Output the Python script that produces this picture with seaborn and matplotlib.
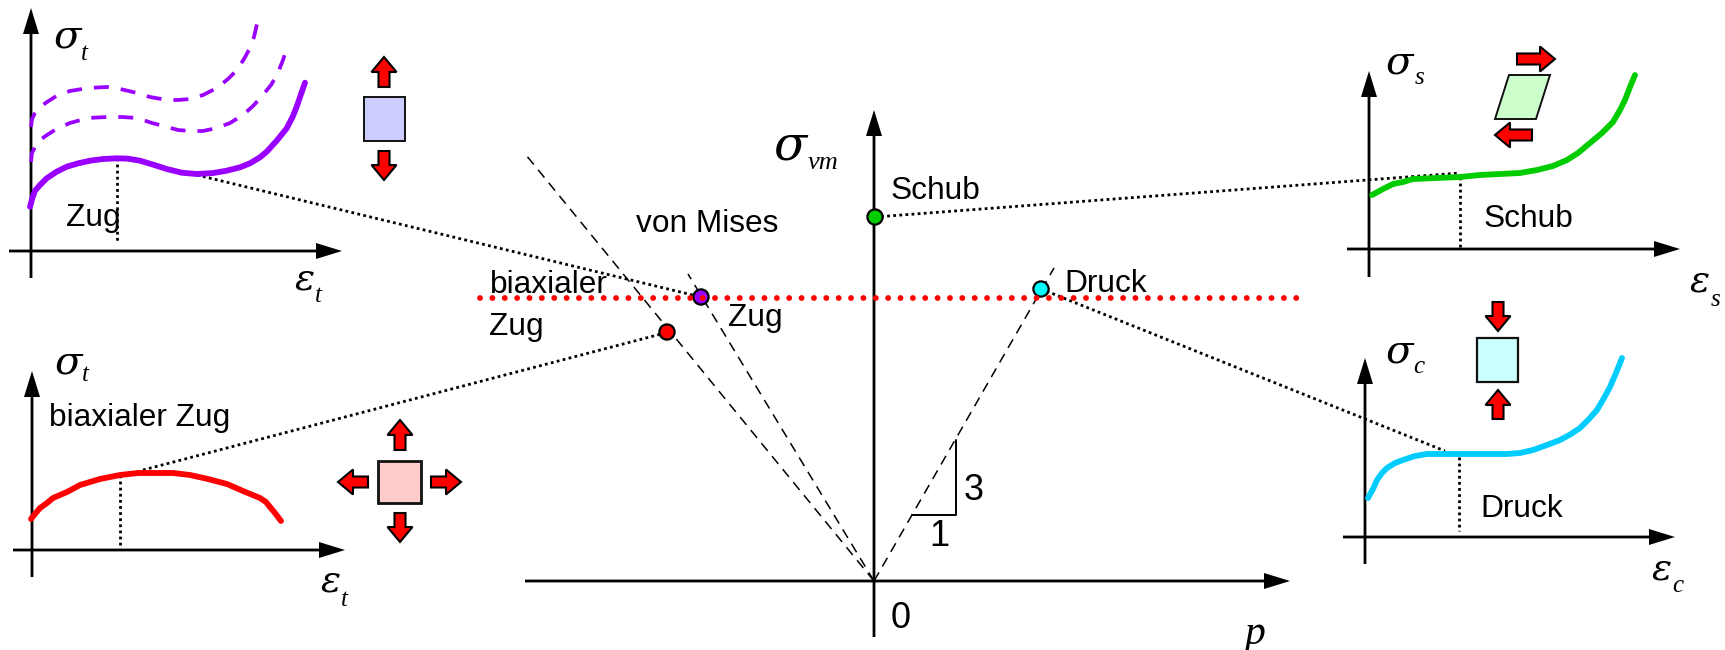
import matplotlib
matplotlib.use("Agg")
import matplotlib.pyplot as plt
import matplotlib.patches as mpatches
import seaborn as sns

sns.set_style("white")
plt.rcParams["font.family"] = ["Liberation Sans", "DejaVu Sans"]

# ------------------------------------------------------------
# Curves (pixel positions of the drawing)
# ------------------------------------------------------------
zug_x = [30, 32.3, 35, 40, 46.7, 56.7, 66.7, 78.3, 90, 103.3, 116.7, 128.3, 140, 153.3, 166.7,
         181.7, 196.7, 213.3, 226.7, 240, 250, 260, 266.7, 276.7, 286.7, 292.7, 296.7, 300.7, 305]
zug_y = [206.7, 198.3, 190.7, 185, 178.3, 171.7, 166.7, 163.3, 160.7, 159, 158.3, 158.7, 160.7, 164.7, 169,
         172.7, 174, 173, 170.7, 167.3, 163.3, 157.3, 151.7, 140.7, 128.3, 116.7, 106.7, 95, 82.7]
zug_upper_x = [31, 32, 35, 40, 47, 58, 70, 88, 107, 120, 133, 150, 167, 178, 190, 203, 217, 228, 237, 244, 250, 254, 257]
zug_upper_y = [127, 119, 113, 107, 102, 95, 91, 88, 87, 89, 92, 97, 100, 100, 99, 95, 88, 79, 70, 59, 48, 37, 24]
zug_mid_x = [31, 32, 35, 40, 47, 58, 70, 88, 107, 122, 137, 152, 167, 178, 190, 203, 217, 230, 243, 253, 263, 271, 277, 283, 288]
zug_mid_y = [162, 153, 147, 140, 135, 128, 123, 118, 117, 117, 118, 123, 127, 130, 131, 131, 128, 123, 115, 106, 95, 85, 75, 60, 45]
biax_x = [31, 35, 40, 47, 53, 67, 80, 100, 120, 138, 157, 173, 190, 208, 227, 243, 260, 266, 270, 275, 281]
biax_y = [519, 514, 508, 503, 498, 492, 485, 479, 475, 473, 473, 473, 475, 479, 484, 491, 498, 502, 507, 513, 521]
schub_x = [1372, 1383, 1393, 1403, 1413, 1437, 1460, 1480, 1500, 1520, 1537, 1553, 1567, 1578, 1590, 1602, 1613, 1620, 1625, 1630, 1635]
schub_y = [195, 189, 184, 182, 179, 178, 177, 175, 174, 173, 170, 166, 160, 153, 143, 133, 122, 110, 100, 87, 75]
druck_x = [1368, 1373, 1377, 1382, 1387, 1395, 1403, 1415, 1427, 1443, 1460, 1483, 1507, 1520, 1533, 1547, 1560, 1571, 1580, 1589, 1597, 1604, 1610, 1616, 1622]
druck_y = [498, 489, 480, 473, 468, 463, 460, 456, 454, 454, 454, 454, 454, 453, 450, 445, 440, 434, 428, 419, 410, 398, 387, 373, 358]

# state points in the p / sigma_vm plane
point_x = [667, 701, 875, 1041]
point_y = [332, 297, 217, 289]
point_colors = ["#FF0000", "#9900FF", "#00CC00", "#00FFFF"]

# axis crosses: x, y of origin, x start, x tip, y start, y tip
axis_sets = [
    (31, 251, 9, 342, 278, 8),
    (32, 550, 13, 345, 577, 371),
    (1369, 249, 1347, 1680, 277, 71),
    (1365, 537, 1343, 1675, 564, 358),
    (874, 581, 525, 1290, 637, 110),
]

# dotted leaders
leaders = [
    ((197, 701), (175, 297)),
    ((143, 665), (470, 333)),
    ((875, 1460), (217, 173)),
    ((1041, 1445), (289, 451)),
    ((117, 117), (158, 243)),
    ((120, 120), (475, 545)),
    ((1460, 1460), (177, 247)),
    ((1459, 1459), (457, 531)),
]

# dashed lines out of the origin
rays = [((874, 1054), (581, 268)), ((874, 526), (581, 155)), ((874, 688), (581, 274))]
slope_x = [912, 956, 956]
slope_y = [515, 515, 440]

# load arrows: tail x, tail y, tip x, tip y
load_arrows = [
    (384, 87, 384, 57), (384, 151, 384, 180),
    (400, 450, 400, 420), (400, 513, 400, 542), (368, 482, 338, 482), (431, 482, 461, 482),
    (1517, 59, 1555, 59), (1532, 135, 1495, 135),
    (1498, 302, 1498, 331), (1498, 419, 1498, 390),
]

# element shapes
elements = [
    ([(364, 97), (405, 97), (405, 141), (364, 141)], "#CCCCFF", 1.4),
    ([(378, 461), (421, 461), (421, 503), (378, 503)], "#FFCCCC", 2.0),
    ([(1509, 75), (1550, 75), (1536, 119), (1495, 119)], "#CCFFCC", 1.4),
    ([(1477, 338), (1518, 338), (1518, 382), (1477, 382)], "#CCFFFF", 1.6),
]

# labels
sans_labels = [
    ("Zug", 93, 218), ("biaxialer Zug", 140, 418), ("Schub", 1528, 219), ("Druck", 1522, 509),
    ("von Mises", 707, 224), ("biaxialer", 549, 285), ("Zug", 516, 327), ("Zug", 755, 318),
    ("Schub", 935, 191), ("Druck", 1106, 284),
]
number_labels = [("3", 974, 490), ("1", 939, 537), ("0", 901, 618)]
# greek in a wide serif, subscripts in a narrow one: text, x, y, size
greek = [
    ("σ", 68, 37, 29), ("ε", 305, 279, 27),
    ("σ", 69, 363, 29), ("ε", 331, 582, 27),
    ("σ", 1400, 63, 29), ("ε", 1700, 282, 27),
    ("σ", 1400, 352, 29), ("ε", 1662, 569, 27),
    ("σ", 790, 146, 35),
]
subscripts = [
    ("t", 84, 54, 18), ("t", 318, 296, 18), ("t", 85, 375, 18), ("t", 344, 600, 18),
    ("s", 1420, 78, 18), ("s", 1716, 300, 18), ("c", 1419, 367, 18), ("c", 1678, 586, 18),
    ("vm", 823, 163, 19), ("p", 1255, 634, 30),
]

# ------------------------------------------------------------
# Canvas in pixel units
# ------------------------------------------------------------
fig = plt.figure(figsize=(17.25, 6.5), dpi=100)
ax = fig.add_axes([0, 0, 1, 1])
ax.set_xlim(0, 1725)
ax.set_ylim(650, 0)
ax.axis("off")

# leaders and rays first, everything else lies on them
for xs, ys in leaders:
    sns.lineplot(x=list(xs), y=list(ys), ax=ax, sort=False, estimator=None, errorbar=None,
                 color="black", linewidth=2.0, linestyle=(0, (1, 1.2)), zorder=2)
for xs, ys in rays:
    sns.lineplot(x=list(xs), y=list(ys), ax=ax, sort=False, estimator=None, errorbar=None,
                 color="black", linewidth=1.1, linestyle=(0, (6.5, 4.5)), zorder=2)
sns.lineplot(x=slope_x, y=slope_y, ax=ax, sort=False, estimator=None, errorbar=None,
             color="black", linewidth=1.4, zorder=2)

# axes with filled heads
for ox, oy, x0, x1, y0, y1 in axis_sets:
    ax.add_patch(mpatches.FancyArrow(x0, oy, x1 - x0, 0, width=2.8, head_width=16, head_length=26,
                                     length_includes_head=True, color="black", lw=0, zorder=3))
    ax.add_patch(mpatches.FancyArrow(ox, y0, 0, y1 - y0, width=2.8, head_width=16, head_length=26,
                                     length_includes_head=True, color="black", lw=0, zorder=3))

# stress-strain curves
for xs, ys, col in [(zug_x, zug_y, "#9900FF"), (biax_x, biax_y, "#FF0000"),
                    (schub_x, schub_y, "#00CC00"), (druck_x, druck_y, "#00CCFF")]:
    sns.lineplot(x=xs, y=ys, ax=ax, sort=False, estimator=None, errorbar=None,
                 color=col, linewidth=4.2, zorder=4)
for xs, ys in [(zug_upper_x, zug_upper_y), (zug_mid_x, zug_mid_y)]:
    sns.lineplot(x=xs, y=ys, ax=ax, sort=False, estimator=None, errorbar=None,
                 color="#9900FF", linewidth=2.7, linestyle=(0, (4, 3.2)), zorder=4)

# state points, then the red dotted line on top of them
sns.scatterplot(x=point_x, y=point_y, hue=list(range(len(point_x))), palette=point_colors,
                ax=ax, s=120, edgecolor="black", linewidth=1.6, legend=False, zorder=5)
ax.plot([480, 1297], [298, 298], color="#FF0000", linewidth=4.2, linestyle=(0, (0.01, 2.11)),
        dash_capstyle="round", zorder=6)

# small stress elements
for corners, fill, lw in elements:
    ax.add_patch(mpatches.Polygon(corners, closed=True, facecolor=fill, edgecolor="#111111",
                                  linewidth=lw, zorder=5))
for tx, ty, hx, hy in load_arrows:
    ax.add_patch(mpatches.FancyArrow(tx, ty, hx - tx, hy - ty, width=11, head_width=25, head_length=15,
                                     length_includes_head=True, facecolor="#FF0000", edgecolor="black",
                                     linewidth=1.5, zorder=5))

# text
for label, x, y in sans_labels:
    ax.text(x, y, label, fontsize=22.8, ha="center", va="center", color="black", zorder=7)
for label, x, y in number_labels:
    ax.text(x, y, label, fontsize=26, ha="center", va="center", color="black", zorder=7)
for label, x, y, size in greek:
    ax.text(x, y, label, fontsize=size, family="DejaVu Serif", style="italic",
            ha="center", va="center", color="black", zorder=7)
for label, x, y, size in subscripts:
    ax.text(x, y, label, fontsize=size, family="Liberation Serif", style="italic",
            ha="center", va="center", color="black", zorder=7)

fig.savefig("out.png", dpi=100, facecolor="white")
